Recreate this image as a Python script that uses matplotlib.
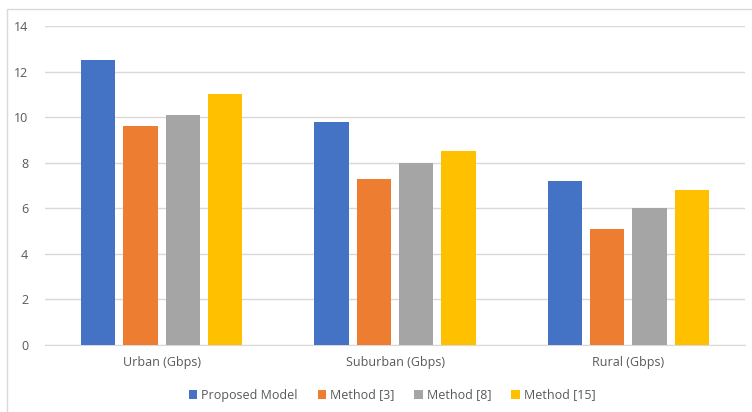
import numpy as np
import matplotlib.pyplot as plt
from matplotlib.patches import Rectangle

categories = ["Urban (Gbps)", "Suburban (Gbps)", "Rural (Gbps)"]
series_names = ["Proposed Model", "Method [3]", "Method [8]", "Method [15]"]
proposed = [12.5, 9.8, 7.2]
method3 = [9.6, 7.3, 5.1]
method8 = [10.1, 8.0, 6.0]
method15 = [11.0, 8.5, 6.8]
yticks = [0, 2, 4, 6, 8, 10, 12, 14]

colors = ["#4472C4", "#ED7D31", "#A5A5A5", "#FFC000"]
text_color = "#595959"

plt.rcParams['font.family'] = ['Open Sans', 'DejaVu Sans']

fig = plt.figure(figsize=(7.52, 4.12), dpi=100)
# outer chart frame (only top and left edges fall inside the image)
fig.patches.append(Rectangle((7 / 752, -20 / 412), 780 / 752, 423 / 412,
                             transform=fig.transFigure, fill=False,
                             edgecolor="#D9D9D9", linewidth=1))
ax = fig.add_axes([45 / 752, 67 / 412, 700 / 752, 319 / 412])

x = np.arange(len(categories))
width = 0.146
step = 0.1815
for i, (vals, name) in enumerate(zip([proposed, method3, method8, method15], series_names)):
    ax.bar(x + (i - 1.5) * step, vals, width, color=colors[i], label=name, zorder=3)

ax.set_xlim(-0.5, len(categories) - 0.5)
ax.set_ylim(0, 14)
ax.set_yticks(yticks)
ax.set_xticks(x)
ax.set_xticklabels(categories)
ax.grid(axis="y", color="#D9D9D9", linewidth=1, zorder=0)
for s in ["top", "right", "left"]:
    ax.spines[s].set_visible(False)
ax.spines["bottom"].set_color("#D9D9D9")
ax.tick_params(axis="both", length=0, colors=text_color, labelsize=9)
ax.tick_params(axis="x", pad=8)
ax.tick_params(axis="y", pad=12)

leg = fig.legend(loc="center", bbox_to_anchor=(392 / 752, 17 / 412), ncol=4,
                 frameon=False, fontsize=9, handlelength=0.7, handleheight=0.7,
                 handletextpad=0.3, columnspacing=1.6)
for t in leg.get_texts():
    t.set_color(text_color)

fig.savefig("out.png", dpi=100)
